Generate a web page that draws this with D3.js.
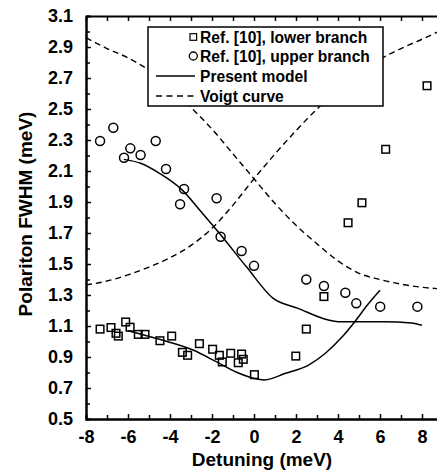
<!DOCTYPE html>
<html>
<head>
<meta charset="utf-8">
<script src="https://cdn.jsdelivr.net/npm/d3@7"></script>
<style>
  body { margin: 0; background: #fff; }
  svg { display: block; font-family: "Liberation Sans", Arial, Helvetica, sans-serif; font-weight: bold; }
</style>
</head>
<body>
<div id="chart"></div>
<script>
// data: detuning (meV) vs polariton FWHM (meV)
const lowerBranchX = [-7.33, -6.81, -6.57, -6.46, -6.11, -5.9, -5.51, -5.19, -4.48, -3.92, -3.41, -3.16, -2.6, -1.97, -1.65, -1.51, -1.11, -0.75, -0.59, -0.51, 0.02, 1.99, 2.49, 3.33, 4.48, 5.14, 6.27, 8.24];
const lowerBranchY = [1.08, 1.09, 1.053, 1.035, 1.126, 1.092, 1.046, 1.046, 1.005, 1.035, 0.93, 0.911, 0.986, 0.95, 0.911, 0.868, 0.924, 0.863, 0.919, 0.885, 0.786, 0.906, 1.08, 1.29, 1.766, 1.895, 2.24, 2.65];

const upperBranchX = [-7.33, -6.7, -6.19, -5.89, -5.4, -4.68, -4.19, -3.33, -3.52, -1.78, -1.59, -0.59, 0.0, 2.49, 3.33, 4.35, 4.87, 6.01, 7.78];
const upperBranchY = [2.294, 2.379, 2.186, 2.246, 2.203, 2.294, 2.113, 1.984, 1.885, 1.924, 1.676, 1.584, 1.488, 1.40, 1.358, 1.315, 1.246, 1.225, 1.225];

const modelUpperX = [-6.2, -5.4, -4.5, -3.4, -2.6, -1.6, -0.35, 0.9, 2.1, 3.5, 4.0, 5.0, 6.2, 7.5, 8.0];
const modelUpperY = [2.175, 2.15, 2.085, 1.975, 1.85, 1.69, 1.48, 1.28, 1.214, 1.14, 1.128, 1.128, 1.128, 1.12, 1.105];

const modelLowerX = [-6.0, -4.5, -2.9, -1.8, -0.8, 0.2, 0.5, 1.5, 2.6, 3.4, 4.2, 4.8, 5.4, 6.0];
const modelLowerY = [1.07, 1.014, 0.945, 0.87, 0.80, 0.756, 0.752, 0.795, 0.848, 0.924, 1.03, 1.128, 1.235, 1.33];

const voigtX = [-8, -7, -6, -5, -4, -3, -2, -1, 0, 1, 2, 3, 4, 5, 6, 7, 8, 8.8];
const voigtDownY = [2.96, 2.89, 2.83, 2.75, 2.64, 2.51, 2.37, 2.21, 2.05, 1.89, 1.75, 1.63, 1.52, 1.44, 1.40, 1.37, 1.35, 1.34];
const voigtUpY = [1.365, 1.39, 1.43, 1.48, 1.54, 1.62, 1.73, 1.88, 2.05, 2.21, 2.36, 2.50, 2.62, 2.72, 2.82, 2.89, 2.95, 3.0];

const xTicks = [-8, -6, -4, -2, 0, 2, 4, 6, 8];
const xMinor = [-7, -5, -3, -1, 1, 3, 5, 7];
const yTicks = [0.5, 0.7, 0.9, 1.1, 1.3, 1.5, 1.7, 1.9, 2.1, 2.3, 2.5, 2.7, 2.9, 3.1];
const yMinor = [0.6, 0.8, 1.0, 1.2, 1.4, 1.6, 1.8, 2.0, 2.2, 2.4, 2.6, 2.8, 3.0];

const legendLabels = ["Ref. [10], lower branch", "Ref. [10], upper branch", "Present model", "Voigt curve"];

const W = 437, H = 472;
const margin = { left: 86, top: 16, bottom: 419, right: 438.8 };

const svg = d3.select("#chart").append("svg")
  .attr("width", W).attr("height", H);

const x = d3.scaleLinear().domain([-8, 8.8]).range([margin.left, margin.right]);
const y = d3.scaleLinear().domain([0.5, 3.1]).range([margin.bottom, margin.top]);

const pairs = (xs, ys) => xs.map((v, i) => [v, ys[i]]);

const line = d3.line()
  .x(d => x(d[0]))
  .y(d => y(d[1]))
  .curve(d3.curveMonotoneX);

const plot = svg.append("g");

// voigt curves (dashed)
[voigtDownY, voigtUpY].forEach(ys => {
  plot.append("path")
    .attr("d", line(pairs(voigtX, ys)))
    .attr("fill", "none")
    .attr("stroke", "#000")
    .attr("stroke-width", 1.4)
    .attr("stroke-dasharray", "6,4");
});

// present model (solid)
[pairs(modelUpperX, modelUpperY), pairs(modelLowerX, modelLowerY)].forEach(pts => {
  plot.append("path")
    .attr("d", line(pts))
    .attr("fill", "none")
    .attr("stroke", "#000")
    .attr("stroke-width", 1.5);
});

// lower branch squares
plot.selectAll(".sq")
  .data(pairs(lowerBranchX, lowerBranchY))
  .join("rect")
  .attr("x", d => x(d[0]) - 3.8)
  .attr("y", d => y(d[1]) - 3.8)
  .attr("width", 7.6).attr("height", 7.6)
  .attr("fill", "none").attr("stroke", "#000").attr("stroke-width", 1.5);

// upper branch circles
plot.selectAll(".ci")
  .data(pairs(upperBranchX, upperBranchY))
  .join("circle")
  .attr("cx", d => x(d[0]))
  .attr("cy", d => y(d[1]))
  .attr("r", 4.5)
  .attr("fill", "none").attr("stroke", "#000").attr("stroke-width", 1.5);

// axes, ticks pointing inside
function styleAxis(g) {
  g.select(".domain").attr("stroke-width", 2);
  g.selectAll(".tick line").attr("stroke-width", 1.5);
  g.selectAll("text").attr("font-size", 18).attr("font-weight", "bold").attr("fill", "#000");
}

svg.append("g").attr("transform", `translate(0,${margin.bottom})`)
  .call(d3.axisBottom(x).tickValues(xMinor).tickSize(-4).tickFormat(""))
  .call(styleAxis);
svg.append("g").attr("transform", `translate(0,${margin.bottom})`)
  .call(d3.axisBottom(x).tickValues(xTicks).tickSizeInner(-5).tickSizeOuter(0).tickPadding(11))
  .call(styleAxis)
  .call(g => g.selectAll("text").text(d => d < 0 ? "-" + Math.abs(d) : d));

svg.append("g").attr("transform", `translate(0,${margin.top})`)
  .call(d3.axisTop(x).tickValues(xTicks.concat(xMinor)).tickSizeInner(-5).tickSizeOuter(0).tickFormat(""))
  .call(styleAxis);

svg.append("g").attr("transform", `translate(${margin.left},0)`)
  .call(d3.axisLeft(y).tickValues(yMinor).tickSize(-4).tickFormat(""))
  .call(styleAxis);
svg.append("g").attr("transform", `translate(${margin.left},0)`)
  .call(d3.axisLeft(y).tickValues(yTicks).tickSizeInner(-5).tickSizeOuter(0).tickPadding(13).tickFormat(d3.format(".1f")))
  .call(styleAxis);

// axis titles
svg.append("text")
  .attr("x", 262).attr("y", 466)
  .attr("text-anchor", "middle")
  .attr("font-size", 19)
  .text("Detuning (meV)");

svg.append("text")
  .attr("transform", "translate(32,214) rotate(-90)")
  .attr("text-anchor", "middle")
  .attr("font-size", 19)
  .text("Polariton FWHM (meV)");

// legend
const lg = svg.append("g");
lg.append("rect")
  .attr("x", 148).attr("y", 27).attr("width", 235).attr("height", 79)
  .attr("fill", "#fff").attr("stroke", "#000").attr("stroke-width", 1.5);

const rowY = [37, 56, 76, 96];
lg.selectAll("text")
  .data(legendLabels)
  .join("text")
  .attr("x", 200)
  .attr("y", (d, i) => rowY[i])
  .attr("dy", "0.36em")
  .attr("font-size", 15.6)
  .text(d => d);

lg.append("rect")
  .attr("x", 190).attr("y", rowY[0] - 3.3).attr("width", 6.6).attr("height", 6.6)
  .attr("fill", "none").attr("stroke", "#000").attr("stroke-width", 1.2);
lg.append("circle")
  .attr("cx", 193.3).attr("cy", rowY[1]).attr("r", 4)
  .attr("fill", "none").attr("stroke", "#000").attr("stroke-width", 1.3);
lg.append("line")
  .attr("x1", 156).attr("x2", 195).attr("y1", rowY[2]).attr("y2", rowY[2])
  .attr("stroke", "#000").attr("stroke-width", 1.5);
lg.append("line")
  .attr("x1", 156).attr("x2", 195).attr("y1", rowY[3]).attr("y2", rowY[3])
  .attr("stroke", "#000").attr("stroke-width", 1.4).attr("stroke-dasharray", "6,4.5");
</script>
</body>
</html>
